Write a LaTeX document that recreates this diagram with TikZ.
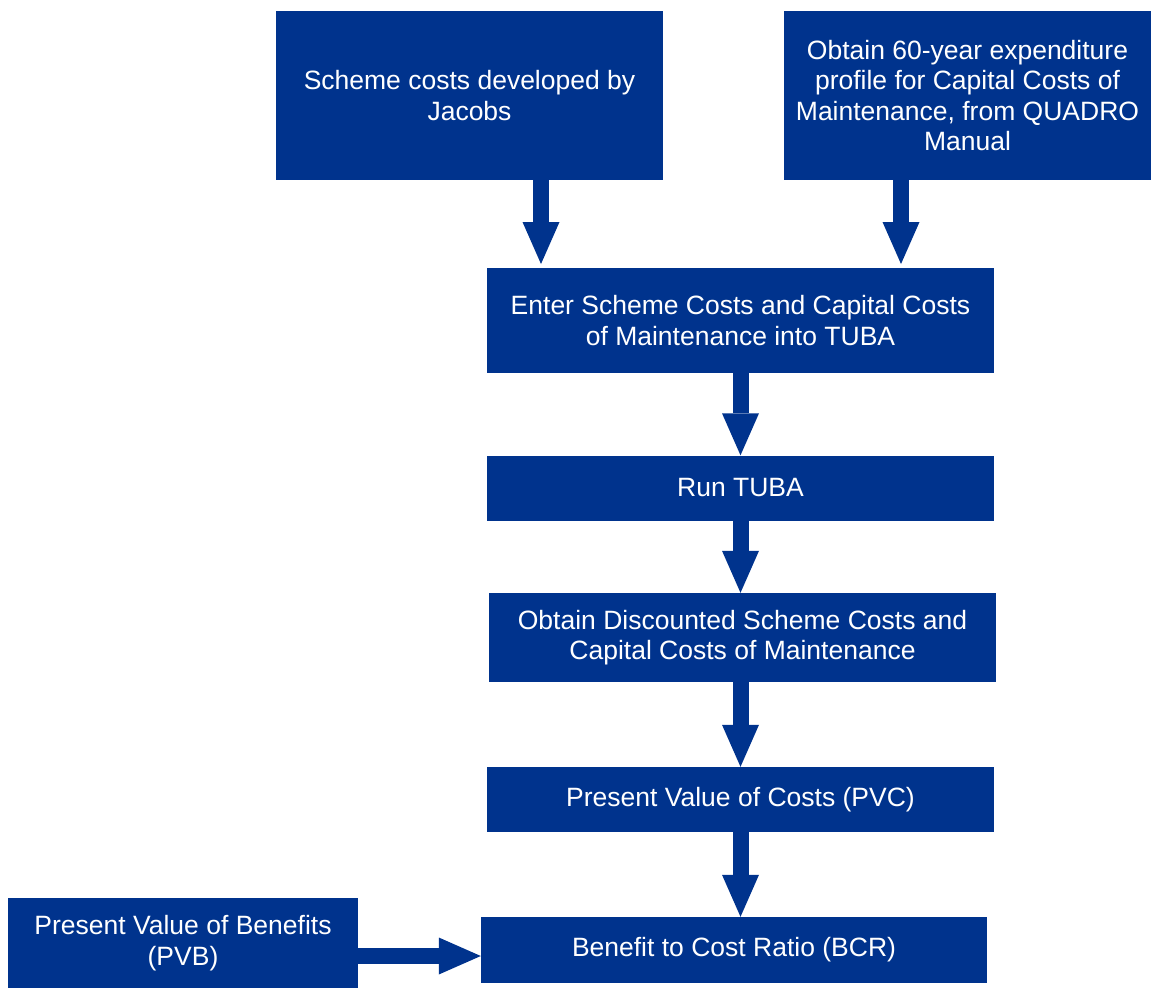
\documentclass[tikz,border=0pt]{standalone}
\usepackage{fontspec}
\setmainfont{Liberation Sans}
\usetikzlibrary{arrows.meta,positioning}
\definecolor{schemeblue}{RGB}{0,51,141}

\begin{document}
\begin{tikzpicture}[x=1pt,y=-1pt,font=\fontsize{26.5}{30.5}\selectfont,box/.style={fill=schemeblue,text=white,align=center,inner sep=0pt},blockarr/.style={line width=16pt,schemeblue,-{Triangle[length=42pt,width=37pt,line width=0pt]}}]
\useasboundingbox (0,0) rectangle (1151,990);
\node[box,minimum width=387,minimum height=169] (scheme) at (469.5,95.5) {Scheme costs developed by\\Jacobs};
\node[box,minimum width=367,minimum height=169] (quadro) at (967.5,95.5) {Obtain 60-year expenditure\\profile for Capital Costs of\\Maintenance, from QUADRO\\Manual};
\node[box,minimum width=507,minimum height=105] (enter) at (740.5,320.5) {Enter Scheme Costs and Capital Costs\\of Maintenance into TUBA};
\node[box,minimum width=507,minimum height=65] (tuba) at (740.5,488) {Run TUBA};
\node[box,minimum width=507,minimum height=89] (discount) at (742.5,637.5) {Obtain Discounted Scheme Costs and\\Capital Costs of Maintenance};
\node[box,minimum width=507,minimum height=65] (pvc) at (740.5,799.5) {Present Value of Costs (PVC)};
\node[box,minimum width=506,minimum height=66] (bcr) at (734,950) {Benefit to Cost Ratio (BCR)};
\node[box,minimum width=350,minimum height=90] (pvb) at (183,943) {Present Value of Benefits\\(PVB)};
\coordinate (tipA) at (541,264);
\coordinate (tipB) at (901,264);
\coordinate (pvbout) at ([yshift=-13pt]pvb.east);
\draw[blockarr] (scheme.south -| tipA)--(tipA);
\draw[blockarr] (quadro.south -| tipB)--(tipB);
\draw[blockarr] (enter.south)--(tuba.north);
\draw[blockarr] (tuba.south)--(tuba.south |- discount.north);
\draw[blockarr] (pvc.north |- discount.south)--(pvc.north);
\draw[blockarr] (pvc.south)--(pvc.south |- bcr.north);
\draw[blockarr] (pvbout)--(pvbout -| bcr.west);
\end{tikzpicture}
\end{document}
